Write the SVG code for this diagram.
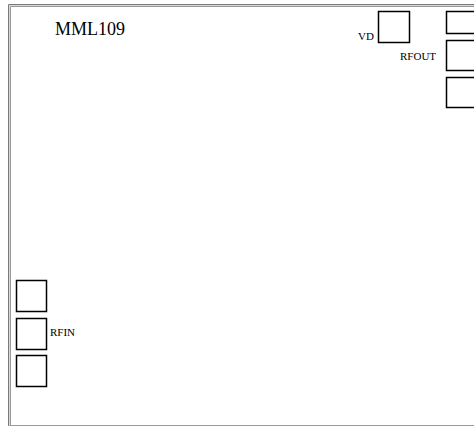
<svg xmlns="http://www.w3.org/2000/svg" width="474" height="427" viewBox="0 0 474 427">
<style>
.pin{fill:#fff;stroke:#000;stroke-width:1.5}
.lbl{font-family:"Liberation Serif",serif;font-size:11px;fill:#000}
.title{font-family:"Liberation Serif",serif;font-size:18px;fill:#000}
</style>
<rect width="474" height="427" fill="#fff"/>
<g id="frame" fill="none">
<path d="M8.5 426V4.5H474" stroke="#7a7a7a"/>
<path d="M9.5 426V5.5H474" stroke="#d8d8d8"/>
<path d="M10.5 425.5V6.5H474" stroke="#9a9a9a"/>
<path d="M10 425.5H474" stroke="#9a9a9a"/>
</g>
<g id="title"><text class="title" x="55" y="35">MML109</text></g>
<g id="vd"><rect class="pin" x="378.5" y="11.5" width="31" height="31"/><text class="lbl" x="358" y="40">VD</text></g>
<g id="p1"><rect class="pin" x="446.5" y="11.5" width="31" height="22"/></g>
<g id="rfout"><rect class="pin" x="446.5" y="40.5" width="31" height="30"/><text class="lbl" x="400" y="60">RFOUT</text></g>
<g id="p3"><rect class="pin" x="446.5" y="77.5" width="31" height="30"/></g>
<g id="p4"><rect class="pin" x="16.5" y="280.5" width="30" height="31"/></g>
<g id="rfin"><rect class="pin" x="16.5" y="318.5" width="30" height="31"/><text class="lbl" x="50" y="336">RFIN</text></g>
<g id="p6"><rect class="pin" x="16.5" y="355.5" width="30" height="31"/></g>
<g id="connectors"></g>
</svg>
